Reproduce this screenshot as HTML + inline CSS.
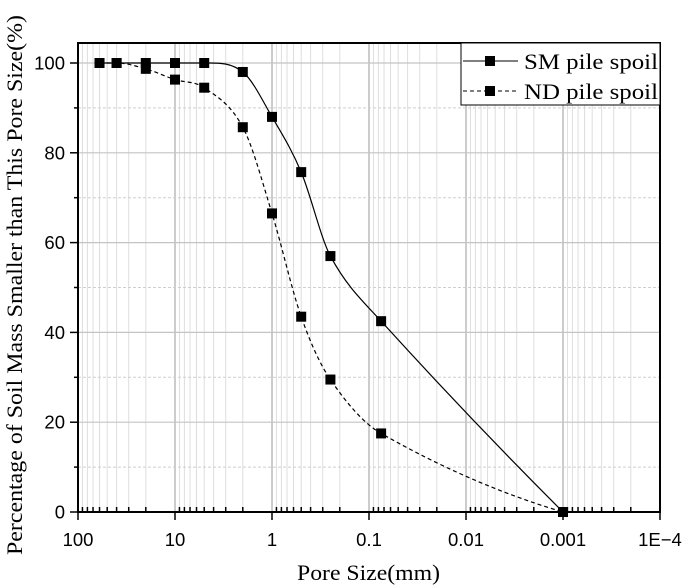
<!DOCTYPE html>
<html><head><meta charset="utf-8">
<style>
html,body{margin:0;padding:0;background:#fff;}
svg{display:block;}
text{font-family:"Liberation Sans",sans-serif;}
.serif{font-family:"Liberation Serif",serif;}
</style></head>
<body>
<svg id="chart" width="685" height="587" viewBox="0 0 685 587" xmlns="http://www.w3.org/2000/svg">
<g id="grid"></g>
<g id="axes"></g>
<g id="series"></g>
<g id="legend">
  <rect x="461" y="43" width="199" height="62" fill="#fff" stroke="#000" stroke-width="1"/>
  <g>
    <line x1="463" y1="61" x2="518" y2="61" stroke="#000" stroke-width="1"/>
    <rect x="485" y="56" width="10" height="10" fill="#000"/>
    <text class="serif" x="524" y="69" font-size="22" textLength="134" lengthAdjust="spacingAndGlyphs">SM pile spoil</text>
  </g>
  <g>
    <line x1="463" y1="91" x2="518" y2="91" stroke="#000" stroke-width="1" stroke-dasharray="4,3"/>
    <rect x="485" y="86" width="10" height="10" fill="#000"/>
    <text class="serif" x="524" y="99" font-size="22" textLength="134" lengthAdjust="spacingAndGlyphs">ND pile spoil</text>
  </g>
</g>
<text class="serif" x="297" y="580" font-size="22" textLength="143" lengthAdjust="spacingAndGlyphs">Pore Size(mm)</text>
<text class="serif" transform="translate(22,555) rotate(-90)" font-size="22" textLength="540" lengthAdjust="spacingAndGlyphs">Percentage of Soil Mass Smaller than This Pore Size(%)</text>
</svg>
<script>
const poreSizes = [60, 40, 20, 10, 5, 2, 1, 0.5, 0.25, 0.075, 0.001];
const smValues = [100, 100, 100, 100, 100, 98, 88, 75.7, 57, 42.5, 0];
const ndValues = [100, 100, 98.7, 96.3, 94.5, 85.7, 66.5, 43.5, 29.5, 17.5, 0];
const xTickValues = [100, 10, 1, 0.1, 0.01, 0.001, 0.0001];
const xTickLabels = ["100", "10", "1", "0.1", "0.01", "0.001", "1E\u22124"];
const yTickValues = [0, 20, 40, 60, 80, 100];

const L = 78, R = 660, T = 43, B = 512;
const xMaxLog = 2, xMinLog = -4;
function xScale(v){ return L + (xMaxLog - Math.log10(v)) / (xMaxLog - xMinLog) * (R - L); }
const Y0 = 512, Y100 = 63;
function yScale(v){ return Y0 + (Y100 - Y0) * v / 100; }

const NS = "http://www.w3.org/2000/svg";
function mk(tag, attrs, parent){
  const e = document.createElementNS(NS, tag);
  for (const k in attrs) e.setAttribute(k, attrs[k]);
  parent.appendChild(e);
  return e;
}
const grid = document.getElementById('grid');
const axes = document.getElementById('axes');
const series = document.getElementById('series');

for (let d = xMaxLog; d > xMinLog; d--) {
  for (let m = 2; m <= 9; m++) {
    const v = Math.pow(10, d - 1) * m;
    const x = xScale(v);
    const ln = mk('line', {x1:x, y1:T, x2:x, y2:B, stroke:'#dedede', 'stroke-width':1}, grid);
    
    
    const tk = mk('line', {x1:x, y1:B, x2:x, y2:B-5, stroke:'#000', 'stroke-width':1.5}, axes);
    
    
  }
}
xTickValues.forEach((v, i) => {
  const x = xScale(v);
  const ln = mk('line', {x1:x, y1:T, x2:x, y2:B, stroke:'#999', 'stroke-width':1}, grid);
  
  
  const tk = mk('line', {x1:x, y1:B, x2:x, y2:B+8, stroke:'#000', 'stroke-width':1.5}, axes);
  
  
  const t = mk('text', {x:x, y:546, 'font-size':18.5, 'text-anchor':'middle'}, axes);
  
  
  t.textContent = xTickLabels[i];
});
yTickValues.forEach((v) => {
  const y = yScale(v);
  if (v > 0) {
    const ln = mk('line', {x1:L, y1:y, x2:R, y2:y, stroke:'#c4c4c4', 'stroke-width':1.2}, grid);
    
    
  }
  const tk = mk('line', {x1:L-8, y1:y, x2:L, y2:y, stroke:'#000', 'stroke-width':1.5}, axes);
  
  
  const t = mk('text', {x:L-13, y:y+6.5, 'font-size':18.5, 'text-anchor':'end'}, axes);
  
  
  t.textContent = String(v);
});
for (let v = 10; v < 100; v += 20) {
  const y = yScale(v);
  const ln = mk('line', {x1:L, y1:y, x2:R, y2:y, stroke:'#cfcfcf', 'stroke-width':1, 'stroke-dasharray':'3,2'}, grid);
  
  
  const tk = mk('line', {x1:L-4, y1:y, x2:L, y2:y, stroke:'#000', 'stroke-width':1.5}, axes);
  
  
}
const frame = mk('rect', {x:L, y:T, width:R-L, height:B-T, fill:'none', stroke:'#000', 'stroke-width':2}, axes);



function smoothPath(pts){
  const n = pts.length;
  const m = new Array(n);
  for (let i = 1; i < n - 1; i++) {
    m[i] = (pts[i+1][1] - pts[i-1][1]) / (pts[i+1][0] - pts[i-1][0]);
  }
  const c0 = (pts[1][1]-pts[0][1])/(pts[1][0]-pts[0][0]);
  m[0] = n > 2 ? 2*c0 - m[1] : c0;
  const cn = (pts[n-1][1]-pts[n-2][1])/(pts[n-1][0]-pts[n-2][0]);
  m[n-1] = n > 2 ? 2*cn - m[n-2] : cn;
  // keep flat runs flat
  for (let i = 0; i < n - 1; i++) {
    if (pts[i][1] === pts[i+1][1]) { m[i] = 0; m[i+1] = 0; }
  }
  let d = 'M' + pts[0][0] + ',' + pts[0][1];
  for (let i = 0; i < n - 1; i++) {
    const dx = pts[i+1][0] - pts[i][0];
    const c1x = pts[i][0] + dx/3, c1y = pts[i][1] + m[i]*dx/3;
    const c2x = pts[i+1][0] - dx/3, c2y = pts[i+1][1] - m[i+1]*dx/3;
    d += ' C' + c1x + ',' + c1y + ' ' + c2x + ',' + c2y + ' ' + pts[i+1][0] + ',' + pts[i+1][1];
  }
  return d;
}
function drawSeries(vals, dash, name){
  const g = mk('g', {}, series);
  
  
  const pts = poreSizes.map((s, i) => [xScale(s), yScale(vals[i])]);
  const p = mk('path', {d:smoothPath(pts), fill:'none', stroke:'#000', 'stroke-width':1.2}, g);
  if (dash) p.setAttribute('stroke-dasharray', dash);
  
  
  pts.forEach(pt => {
    const r = mk('rect', {x:pt[0]-5, y:pt[1]-5, width:10, height:10, fill:'#000'}, g);
    
    
  });
}
drawSeries(ndValues, '4,3', 'nd-series');
drawSeries(smValues, null, 'sm-series');
</script>
</body></html>
